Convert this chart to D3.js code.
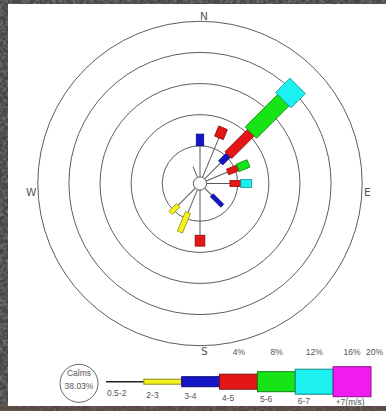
<!DOCTYPE html>
<html>
<head>
<meta charset="utf-8">
<script src="https://cdn.jsdelivr.net/npm/d3@7/dist/d3.min.js"></script>
<style>
  html, body { margin: 0; padding: 0; background: #444; }
  svg { display: block; }
</style>
</head>
<body>
<svg id="chart" width="386" height="411"></svg>
<script>
// ---- data -------------------------------------------------------------
const directions = ["N", "NNE", "NE", "ENE", "E", "ESE", "SE", "SSE",
                    "S", "SSW", "SW", "WSW", "W", "WNW", "NW", "NNW"];
const speedClasses = ["0.5-2", "2-3", "3-4", "4-5", "5-6", "6-7", "+7(m/s)"];

// frequency (%) by direction, one value per speed class
const freqN   = [4.0, 0,   1.5, 0,   0,   0,   0];
const freqNNE = [5.5, 0,   0,   1.4, 0,   0,   0];
const freqNE  = [2.9, 0,   1.4, 4.1, 5.9, 2.6, 0];
const freqENE = [3.0, 0,   0,   1.4, 1.5, 0,   0];
const freqE   = [3.0, 0,   0,   1.4, 0,   1.4, 0];
const freqESE = [0,   0,   0,   0,   0,   0,   0];
const freqSE  = [1.3, 0,   1.9, 0,   0,   0,   0];
const freqSSE = [0,   0,   0,   0,   0,   0,   0];
const freqS   = [5.8, 0,   0,   1.4, 0,   0,   0];
const freqSSW = [3.2, 2.7, 0,   0,   0,   0,   0];
const freqSW  = [3.1, 1.4, 0,   0,   0,   0,   0];
const freqWSW = [0,   0,   0,   0,   0,   0,   0];
const freqW   = [0,   0,   0,   0,   0,   0,   0];
const freqWNW = [0,   0,   0,   0,   0,   0,   0];
const freqNW  = [0,   0,   0,   0,   0,   0,   0];
const freqNNW = [1.5, 0,   0,   0,   0,   0,   0];

const ringValues = [4, 8, 12, 16, 20];
const ringLabels = ["4%", "8%", "12%", "16%", "20%"];
const calmsPercent = 38.03;

const freqTable = [freqN, freqNNE, freqNE, freqENE, freqE, freqESE, freqSE, freqSSE,
                   freqS, freqSSW, freqSW, freqWSW, freqW, freqWNW, freqNW, freqNNW];

// ---- styles -----------------------------------------------------------
const classColors = [null, "#f2f21e", "#1414c8", "#e41616", "#16e416", "#1cf0f0", "#f01cf0"];
const widthFactor = [0, 0.13, 0.17, 0.17, 0.17, 0.17, 0.17]; // bar width per unit radius
const textColor = "#555";
const fontFamily = "'Liberation Sans', Arial, sans-serif";

const W = 386, H = 411;
const cx = 200, cy = 183.5;
const calmR = 6.6;

const svg = d3.select("#chart");
const defs = svg.append("defs");

// grainy grey backdrop
const grain = defs.append("filter").attr("id", "grain")
  .attr("x", 0).attr("y", 0).attr("width", "100%").attr("height", "100%");
grain.append("feTurbulence").attr("type", "fractalNoise")
  .attr("baseFrequency", 0.3).attr("numOctaves", 3).attr("seed", 7).attr("result", "n");
grain.append("feColorMatrix").attr("in", "n").attr("type", "matrix")
  .attr("values", "0 0 0 0 0.75  0 0 0 0 0.75  0 0 0 0 0.75  1.1 0 0 0 -0.4");

svg.append("rect").attr("width", W).attr("height", H).attr("fill", "#454545");
svg.append("rect").attr("width", W).attr("height", H).attr("filter", "url(#grain)").attr("opacity", 0.6);
svg.append("rect").attr("x", 0).attr("y", 404).attr("width", W).attr("height", 7)
  .attr("fill", "#6a4a44").attr("opacity", 0.5);

// white chart panel
svg.append("rect").attr("x", 8).attr("y", 4).attr("width", W - 8).attr("height", 402)
  .attr("fill", "#ffffff");

// ---- rose -------------------------------------------------------------
const r = d3.scaleLinear().domain([0, 20]).range([calmR, 162.2]);

const rose = svg.append("g").attr("transform", `translate(${cx},${cy})`);

rose.selectAll("circle.ring").data(ringValues).join("circle")
  .attr("class", "ring")
  .attr("r", d => r(d))
  .attr("fill", "none")
  .attr("stroke", "#404040")
  .attr("stroke-width", 0.85);

const step = 360 / directions.length;

directions.forEach((dir, i) => {
  const vals = freqTable[i];
  const g = rose.append("g").attr("transform", `rotate(${i * step})`);
  let acc = 0;
  const segs = vals.map((v, k) => {
    const s = { k, v, from: acc, to: acc + v };
    acc += v;
    return s;
  }).filter(s => s.v > 0);

  // lightest class drawn as a thin line from the calm circle
  segs.filter(s => s.k === 0).forEach(s => {
    g.append("line")
      .attr("x1", 0).attr("y1", -r(s.from))
      .attr("x2", 0).attr("y2", -r(s.to))
      .attr("stroke", "#5a5a5a").attr("stroke-width", 1);
  });

  g.selectAll("rect.seg").data(segs.filter(s => s.k > 0)).join("rect")
    .attr("class", "seg")
    .attr("x", s => -widthFactor[s.k] * (r(s.from) + r(s.to)) / 4)
    .attr("width", s => widthFactor[s.k] * (r(s.from) + r(s.to)) / 2)
    .attr("y", s => -r(s.to))
    .attr("height", s => r(s.to) - r(s.from))
    .attr("fill", s => classColors[s.k])
    .attr("stroke", s => d3.color(classColors[s.k]).darker(1.3))
    .attr("stroke-width", 0.8);
});

// calm circle at the centre
rose.append("circle").attr("r", calmR)
  .attr("fill", "#fff").attr("stroke", "#444").attr("stroke-width", 0.9);

// compass letters
const compass = [
  { t: "N", x: cx,       y: 19.5 },
  { t: "E", x: cx + 164, y: 195.5 },
  { t: "S", x: cx + 1,   y: 355 },
  { t: "W", x: cx - 174, y: 195.5 }
];
svg.selectAll("text.compass").data(compass).join("text")
  .attr("class", "compass")
  .attr("x", d => d.x).attr("y", d => d.y)
  .attr("font-family", "'DejaVu Sans', sans-serif")
  .attr("font-size", 10.5)
  .attr("fill", textColor)
  .text(d => d.t);

// scale labels along the bottom
const labelX = d3.scaleLinear().domain([4, 16]).range([239, 352]);
svg.selectAll("text.ringlabel").data(ringValues).join("text")
  .attr("class", "ringlabel")
  .attr("x", d => Math.min(labelX(d), 383))
  .attr("y", 354.5)
  .attr("text-anchor", d => labelX(d) + 8 > 383 ? "end" : "middle")
  .attr("font-family", fontFamily)
  .attr("font-size", 8.5)
  .attr("fill", textColor)
  .text((d, i) => ringLabels[i]);

// ---- legend -----------------------------------------------------------
const legendY = 381.7;
const lx = d3.scaleLinear().domain([0, speedClasses.length]).range([106, 371]);
const barH = k => 5 * k;

const legend = svg.append("g");
legend.append("line")
  .attr("x1", lx(0)).attr("x2", lx(1))
  .attr("y1", legendY).attr("y2", legendY)
  .attr("stroke", "#222").attr("stroke-width", 1.6);

legend.selectAll("rect").data(d3.range(1, speedClasses.length)).join("rect")
  .attr("x", k => lx(k))
  .attr("width", k => lx(k + 1) - lx(k))
  .attr("y", k => legendY - barH(k) / 2)
  .attr("height", k => barH(k))
  .attr("fill", k => classColors[k])
  .attr("stroke", k => d3.color(classColors[k]).darker(1.6))
  .attr("stroke-width", 1);

legend.selectAll("text").data(speedClasses).join("text")
  .attr("x", (d, k) => lx(k) + (k === 0 ? 1 : 2.5))
  .attr("y", (d, k) => 396 + k * 1.55)
  .attr("font-family", fontFamily)
  .attr("font-size", 8.5)
  .attr("fill", textColor)
  .text(d => d);

// calms key
const calm = svg.append("g").attr("transform", "translate(79,383.3)");
calm.append("circle").attr("r", 19)
  .attr("fill", "#fff").attr("stroke", "#555").attr("stroke-width", 0.9);
calm.append("text").attr("y", -7).attr("text-anchor", "middle")
  .attr("font-family", fontFamily).attr("font-size", 8.5).attr("fill", textColor)
  .text("Calms");
calm.append("text").attr("y", 6).attr("text-anchor", "middle")
  .attr("font-family", fontFamily).attr("font-size", 8.5).attr("fill", textColor)
  .text(calmsPercent.toFixed(2) + "%");
</script>
</body>
</html>
